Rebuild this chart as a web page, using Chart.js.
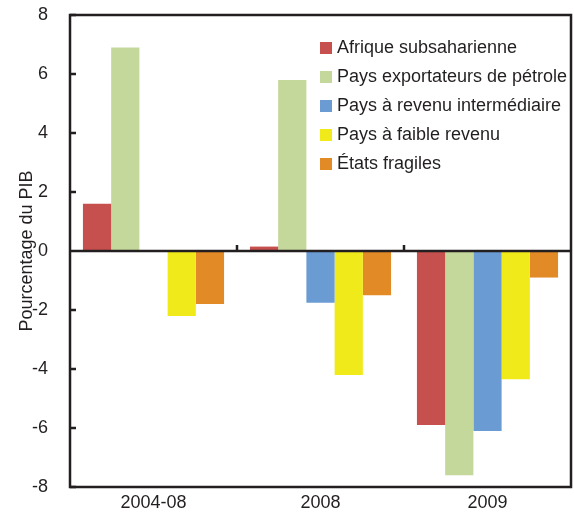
<!DOCTYPE html>
<html lang="fr">
<head>
  <meta charset="UTF-8" />
  <title>Pourcentage du PIB</title>
  <script src="https://cdn.jsdelivr.net/npm/chart.js"></script>
  <style>
    body { margin: 0; background: #fff; font-family: "Liberation Sans", Arial, sans-serif; }
    .wrap { position: relative; width: 574px; height: 521px; }
    #legend { position: absolute; left: 320px; top: 33px; list-style: none; margin: 0; padding: 0; }
    #legend li { height: 29px; line-height: 29px; font-size: 18px; color: #231f20; white-space: nowrap; }
    #legend span { display: inline-block; width: 12px; height: 12px; margin-right: 5px; vertical-align: -1px; }
  </style>
</head>
<body>
<div class="wrap">
  <canvas id="chart" width="574" height="521"></canvas>
  <ul id="legend"></ul>
</div>
<script>
  const categories = ['2004-08', '2008', '2009'];
  const seriesNames = [
    'Afrique subsaharienne',
    'Pays exportateurs de pétrole',
    'Pays à revenu intermédiaire',
    'Pays à faible  revenu',
    'États fragiles'
  ];
  const afrique = [1.6, 0.15, -5.9];
  const exportateurs = [6.9, 5.8, -7.6];
  const intermediaire = [null, -1.75, -6.1];
  const faible = [-2.2, -4.2, -4.35];
  const fragiles = [-1.8, -1.5, -0.9];
  const colors = ['#c6504e', '#c5d89b', '#6a9bd3', '#f1ea1a', '#e28a25'];
  const yTicks = [-8, -6, -4, -2, 0, 2, 4, 6, 8];

  const seriesData = [afrique, exportateurs, intermediaire, faible, fragiles];
  const ink = '#231f20';
  const fontFamily = '"Liberation Sans", Arial, sans-serif';

  // legend in html so it can sit inside the plot
  const legend = document.getElementById('legend');
  seriesNames.forEach((name, i) => {
    const li = document.createElement('li');
    li.innerHTML = `<span style="background:${colors[i]}"></span>${name}`;
    legend.appendChild(li);
  });

  // frame, zero line and inward ticks
  const framePlugin = {
    id: 'frame',
    afterDatasetsDraw(chart) {
      const { ctx, chartArea: a, scales: { x, y } } = chart;
      ctx.save();
      ctx.strokeStyle = ink;
      ctx.lineWidth = 2.5;
      ctx.strokeRect(a.left, a.top, a.right - a.left, a.bottom - a.top);
      const y0 = y.getPixelForValue(0);
      ctx.beginPath();
      ctx.moveTo(a.left, y0);
      ctx.lineTo(a.right, y0);
      yTicks.forEach(v => {
        const py = y.getPixelForValue(v);
        ctx.moveTo(a.left, py);
        ctx.lineTo(a.left + 6, py);
      });
      for (let i = 0; i < categories.length - 1; i++) {
        const px = (x.getPixelForValue(i) + x.getPixelForValue(i + 1)) / 2;
        ctx.moveTo(px, y0);
        ctx.lineTo(px, y0 - 6);
      }
      ctx.stroke();
      ctx.restore();
    }
  };

  new Chart(document.getElementById('chart'), {
    type: 'bar',
    data: {
      labels: categories,
      datasets: seriesNames.map((name, i) => ({
        label: name,
        data: seriesData[i],
        backgroundColor: colors[i],
        borderWidth: 0,
        barPercentage: 1,
        categoryPercentage: 0.845
      }))
    },
    options: {
      responsive: false,
      animation: false,
      layout: { padding: { top: 15, right: 3, left: 0, bottom: 0 } },
      plugins: { legend: { display: false }, tooltip: { enabled: false } },
      scales: {
        x: {
          grid: { display: false },
          border: { display: false },
          ticks: { color: ink, font: { size: 18, family: fontFamily }, padding: -3 },
          afterFit(scale) { scale.height = 34; }
        },
        y: {
          min: -8,
          max: 8,
          afterBuildTicks(scale) { scale.ticks = yTicks.map(v => ({ value: v })); },
          grid: { display: false },
          border: { display: false },
          ticks: { color: ink, font: { size: 18, family: fontFamily }, padding: 14 },
          title: {
            display: true,
            text: 'Pourcentage du PIB',
            color: ink,
            font: { size: 18, family: fontFamily },
            padding: { top: 16, bottom: 0 }
          },
          afterFit(scale) {
            scale.width = 70;
            scale.paddingTop = 0;
            scale.paddingBottom = 0;
          }
        }
      }
    },
    plugins: [framePlugin]
  });
</script>
</body>
</html>
